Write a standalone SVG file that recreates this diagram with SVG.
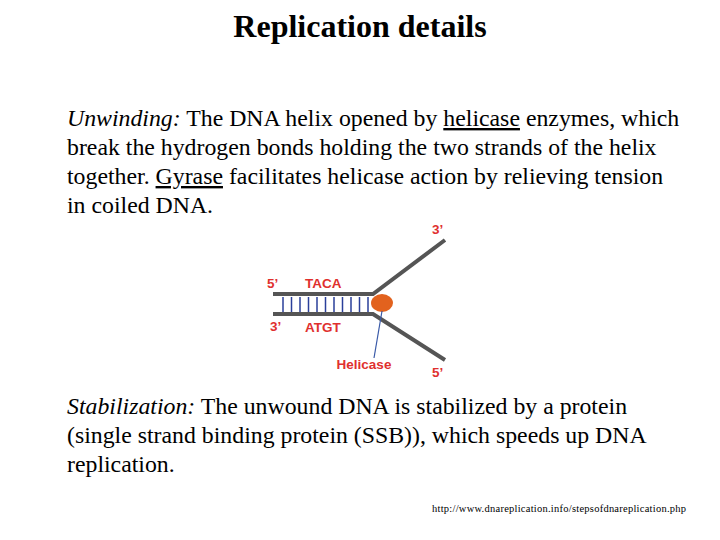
<svg xmlns="http://www.w3.org/2000/svg" width="720" height="540" viewBox="0 0 720 540">
<style>
.t{font-family:"Liberation Serif",serif;font-size:23.8px;fill:#000}
.r{font-family:"Liberation Sans",sans-serif;font-weight:bold;font-size:13.5px;fill:#e0302e}
.s{stroke:#555;stroke-width:4;fill:none}
.b{stroke:#2a3f9a;stroke-width:1.5}
</style>
<rect width="720" height="540" fill="#fff"/>
<text x="360" y="37" text-anchor="middle" class="t" style="font-size:32px;font-weight:bold">Replication details</text>
<g id="text1" class="t">
<text x="67" y="126"><tspan font-style="italic">Unwinding:</tspan> The DNA helix opened by <tspan text-decoration="underline">helicase</tspan> enzymes, which</text>
<text x="67" y="155">break the hydrogen bonds holding the two strands of the helix</text>
<text x="67" y="184">together. <tspan text-decoration="underline">Gyrase</tspan> facilitates helicase action by relieving tension</text>
<text x="67" y="213">in coiled DNA.</text>
</g>
<g id="dna">
<g class="b">
<line x1="283" y1="297" x2="283" y2="312"/><line x1="291.5" y1="297" x2="291.5" y2="312"/><line x1="300" y1="297" x2="300" y2="312"/><line x1="308.5" y1="297" x2="308.5" y2="312"/><line x1="317" y1="297" x2="317" y2="312"/><line x1="325.5" y1="297" x2="325.5" y2="312"/><line x1="334" y1="297" x2="334" y2="312"/><line x1="342.5" y1="297" x2="342.5" y2="312"/><line x1="351" y1="297" x2="351" y2="312"/><line x1="359.5" y1="297" x2="359.5" y2="312"/><line x1="368" y1="297" x2="368" y2="312"/>
</g>
<path class="s" d="M273 294H373L445 240M273 314H373L445 360"/>
<ellipse cx="382" cy="303" rx="11" ry="9" fill="#e2621e"/>
<line x1="382" y1="311" x2="374" y2="358" stroke="#3a5aa8" stroke-width="1.2"/>
<text x="267" y="288" class="r">5’</text>
<text x="305" y="288" class="r">TACA</text>
<text x="270" y="331" class="r">3’</text>
<text x="305" y="332" class="r">ATGT</text>
<text x="364" y="369" text-anchor="middle" class="r">Helicase</text>
<text x="432" y="234" class="r">3’</text>
<text x="432" y="377" class="r">5’</text>
</g>
<g id="text2" class="t">
<text x="67" y="414"><tspan font-style="italic">Stabilization:</tspan> The unwound DNA is stabilized by a protein</text>
<text x="67" y="443">(single strand binding protein (SSB)), which speeds up DNA</text>
<text x="67" y="472">replication.</text>
</g>
<text x="432" y="512" font-family="Liberation Serif,serif" font-size="10.5" textLength="254">http://www.dnareplication.info/stepsofdnareplication.php</text>
</svg>
